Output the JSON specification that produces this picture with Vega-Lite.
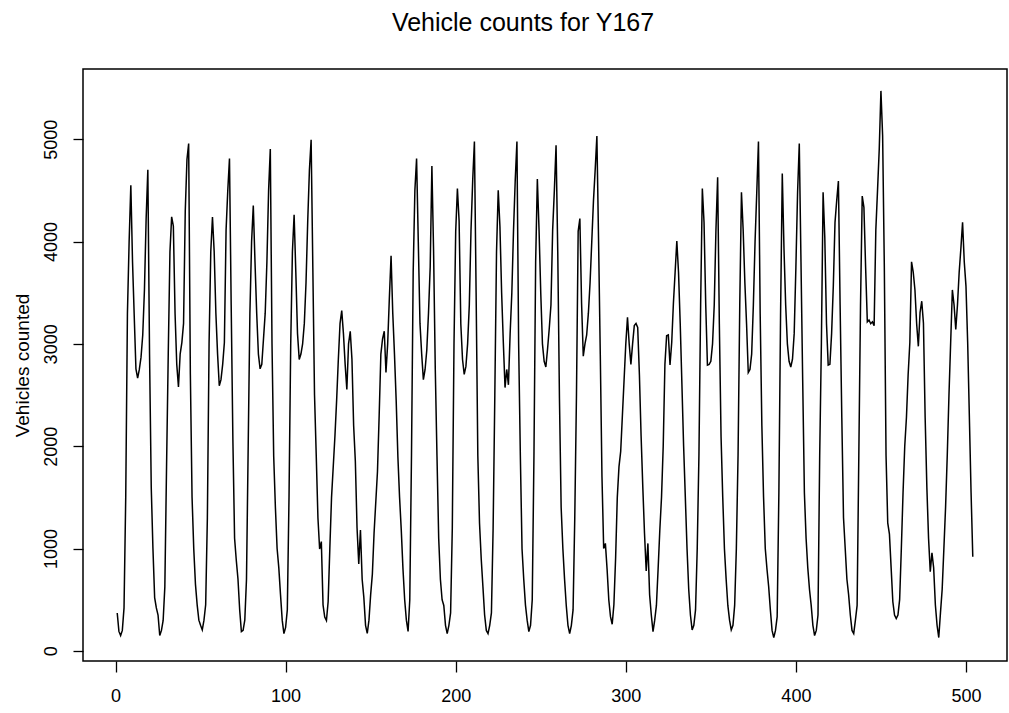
{
  "$schema": "https://vega.github.io/schema/vega-lite/v6.json",
  "width": 924,
  "height": 592,
  "autosize": {"type": "none"},
  "padding": {"left": 83, "top": 69, "right": 2, "bottom": 52},
  "background": "white",
  "title": {
    "text": "Vehicle counts for Y167",
    "fontSize": 25,
    "font": "Liberation Sans Narrow, Arial Narrow, Liberation Sans, Arial",
    "fontWeight": "normal",
    "color": "black",
    "anchor": "middle",
    "dx": -22,
    "offset": 33
  },
  "data": {"values": [
{"t":1,"v":370},{"t":2,"v":190},{"t":3,"v":150},{"t":4,"v":200},{"t":5,"v":420},{"t":6,"v":1500},{"t":7,"v":3300},{"t":8,"v":4000},{"t":9,"v":4550},{"t":10,"v":3800},{"t":11,"v":3270},{"t":12,"v":2756},{"t":13,"v":2665},{"t":14,"v":2750},{"t":15,"v":2870},{"t":16,"v":3087},{"t":17,"v":3527},{"t":18,"v":4224},{"t":19,"v":4701},{"t":20,"v":2903},{"t":21,"v":1600},{"t":22,"v":1000},{"t":23,"v":520},{"t":24,"v":420},
{"t":25,"v":350},{"t":26,"v":150},{"t":27,"v":200},{"t":28,"v":297},{"t":29,"v":628},{"t":30,"v":1800},{"t":31,"v":2900},{"t":32,"v":3900},{"t":33,"v":4242},{"t":34,"v":4150},{"t":35,"v":3300},{"t":36,"v":2800},{"t":37,"v":2580},{"t":38,"v":2900},{"t":39,"v":3013},{"t":40,"v":3200},{"t":41,"v":4298},{"t":42,"v":4800},{"t":43,"v":4958},{"t":44,"v":2700},{"t":45,"v":1500},{"t":46,"v":995},{"t":47,"v":650},{"t":48,"v":450},
{"t":49,"v":300},{"t":50,"v":250},{"t":51,"v":205},{"t":52,"v":300},{"t":53,"v":450},{"t":54,"v":1300},{"t":55,"v":3000},{"t":56,"v":3900},{"t":57,"v":4240},{"t":58,"v":3900},{"t":59,"v":3300},{"t":60,"v":2900},{"t":61,"v":2591},{"t":62,"v":2650},{"t":63,"v":2800},{"t":64,"v":3013},{"t":65,"v":4114},{"t":66,"v":4500},{"t":67,"v":4811},{"t":68,"v":3380},{"t":69,"v":2060},{"t":70,"v":1100},{"t":71,"v":885},{"t":72,"v":700},
{"t":73,"v":400},{"t":74,"v":188},{"t":75,"v":200},{"t":76,"v":300},{"t":77,"v":700},{"t":78,"v":2000},{"t":79,"v":3300},{"t":80,"v":4000},{"t":81,"v":4353},{"t":82,"v":3800},{"t":83,"v":3300},{"t":84,"v":2900},{"t":85,"v":2756},{"t":86,"v":2800},{"t":87,"v":3050},{"t":88,"v":3300},{"t":89,"v":3800},{"t":90,"v":4500},{"t":91,"v":4903},{"t":92,"v":3000},{"t":93,"v":1900},{"t":94,"v":1400},{"t":95,"v":1000},{"t":96,"v":811},
{"t":97,"v":550},{"t":98,"v":300},{"t":99,"v":169},{"t":100,"v":230},{"t":101,"v":400},{"t":102,"v":1500},{"t":103,"v":3000},{"t":104,"v":3900},{"t":105,"v":4261},{"t":106,"v":3700},{"t":107,"v":3100},{"t":108,"v":2848},{"t":109,"v":2900},{"t":110,"v":3000},{"t":111,"v":3200},{"t":112,"v":3600},{"t":113,"v":4200},{"t":114,"v":4700},{"t":115,"v":4995},{"t":116,"v":3747},{"t":117,"v":2500},{"t":118,"v":1912},{"t":119,"v":1300},{"t":120,"v":995},
{"t":121,"v":1068},{"t":122,"v":450},{"t":123,"v":330},{"t":124,"v":297},{"t":125,"v":480},{"t":126,"v":1000},{"t":127,"v":1500},{"t":128,"v":1800},{"t":129,"v":2100},{"t":130,"v":2450},{"t":131,"v":2850},{"t":132,"v":3200},{"t":133,"v":3325},{"t":134,"v":3100},{"t":135,"v":2800},{"t":136,"v":2554},{"t":137,"v":3000},{"t":138,"v":3123},{"t":139,"v":2850},{"t":140,"v":2200},{"t":141,"v":1850},{"t":142,"v":1200},{"t":143,"v":850},{"t":144,"v":1180},
{"t":145,"v":700},{"t":146,"v":520},{"t":147,"v":250},{"t":148,"v":170},{"t":149,"v":300},{"t":150,"v":550},{"t":151,"v":750},{"t":152,"v":1150},{"t":153,"v":1450},{"t":154,"v":1750},{"t":155,"v":2300},{"t":156,"v":2900},{"t":157,"v":3050},{"t":158,"v":3123},{"t":159,"v":2720},{"t":160,"v":3000},{"t":161,"v":3450},{"t":162,"v":3860},{"t":163,"v":3300},{"t":164,"v":2900},{"t":165,"v":2450},{"t":166,"v":1900},{"t":167,"v":1500},{"t":168,"v":1180},
{"t":169,"v":800},{"t":170,"v":500},{"t":171,"v":300},{"t":172,"v":190},{"t":173,"v":500},{"t":174,"v":1900},{"t":175,"v":3700},{"t":176,"v":4500},{"t":177,"v":4811},{"t":178,"v":4000},{"t":179,"v":3200},{"t":180,"v":2900},{"t":181,"v":2650},{"t":182,"v":2750},{"t":183,"v":2940},{"t":184,"v":3300},{"t":185,"v":3750},{"t":186,"v":4738},{"t":187,"v":3900},{"t":188,"v":2750},{"t":189,"v":1900},{"t":190,"v":1100},{"t":191,"v":700},{"t":192,"v":500},
{"t":193,"v":444},{"t":194,"v":250},{"t":195,"v":169},{"t":196,"v":250},{"t":197,"v":371},{"t":198,"v":1200},{"t":199,"v":3000},{"t":200,"v":4100},{"t":201,"v":4518},{"t":202,"v":4200},{"t":203,"v":3197},{"t":204,"v":2850},{"t":205,"v":2701},{"t":206,"v":2780},{"t":207,"v":3000},{"t":208,"v":3380},{"t":209,"v":4114},{"t":210,"v":4600},{"t":211,"v":4977},{"t":212,"v":3500},{"t":213,"v":1912},{"t":214,"v":1250},{"t":215,"v":900},{"t":216,"v":628},
{"t":217,"v":350},{"t":218,"v":200},{"t":219,"v":169},{"t":220,"v":250},{"t":221,"v":371},{"t":222,"v":1200},{"t":223,"v":2500},{"t":224,"v":3900},{"t":225,"v":4500},{"t":226,"v":4150},{"t":227,"v":3500},{"t":228,"v":3013},{"t":229,"v":2573},{"t":230,"v":2750},{"t":231,"v":2600},{"t":232,"v":3100},{"t":233,"v":3500},{"t":234,"v":4114},{"t":235,"v":4600},{"t":236,"v":4977},{"t":237,"v":3000},{"t":238,"v":1912},{"t":239,"v":995},{"t":240,"v":700},
{"t":241,"v":450},{"t":242,"v":300},{"t":243,"v":188},{"t":244,"v":250},{"t":245,"v":500},{"t":246,"v":1900},{"t":247,"v":3800},{"t":248,"v":4610},{"t":249,"v":4114},{"t":250,"v":3500},{"t":251,"v":3000},{"t":252,"v":2830},{"t":253,"v":2774},{"t":254,"v":2950},{"t":255,"v":3150},{"t":256,"v":3380},{"t":257,"v":4114},{"t":258,"v":4500},{"t":259,"v":4940},{"t":260,"v":3900},{"t":261,"v":2463},{"t":262,"v":1400},{"t":263,"v":1000},{"t":264,"v":700},
{"t":265,"v":444},{"t":266,"v":250},{"t":267,"v":169},{"t":268,"v":250},{"t":269,"v":400},{"t":270,"v":1300},{"t":271,"v":2500},{"t":272,"v":4100},{"t":273,"v":4224},{"t":274,"v":3400},{"t":275,"v":2880},{"t":276,"v":3000},{"t":277,"v":3087},{"t":278,"v":3300},{"t":279,"v":3600},{"t":280,"v":4000},{"t":281,"v":4400},{"t":282,"v":4700},{"t":283,"v":5032},{"t":284,"v":4000},{"t":285,"v":2900},{"t":286,"v":1700},{"t":287,"v":1000},{"t":288,"v":1050},
{"t":289,"v":800},{"t":290,"v":500},{"t":291,"v":334},{"t":292,"v":260},{"t":293,"v":450},{"t":294,"v":900},{"t":295,"v":1500},{"t":296,"v":1800},{"t":297,"v":1950},{"t":298,"v":2300},{"t":299,"v":2650},{"t":300,"v":3000},{"t":301,"v":3260},{"t":302,"v":3000},{"t":303,"v":2800},{"t":304,"v":3000},{"t":305,"v":3180},{"t":306,"v":3200},{"t":307,"v":3160},{"t":308,"v":2700},{"t":309,"v":2100},{"t":310,"v":1600},{"t":311,"v":1150},{"t":312,"v":780},
{"t":313,"v":1050},{"t":314,"v":550},{"t":315,"v":350},{"t":316,"v":188},{"t":317,"v":300},{"t":318,"v":444},{"t":319,"v":800},{"t":320,"v":1178},{"t":321,"v":1500},{"t":322,"v":2000},{"t":323,"v":2800},{"t":324,"v":3080},{"t":325,"v":3087},{"t":326,"v":2793},{"t":327,"v":3013},{"t":328,"v":3400},{"t":329,"v":3700},{"t":330,"v":4004},{"t":331,"v":3700},{"t":332,"v":3200},{"t":333,"v":2600},{"t":334,"v":2000},{"t":335,"v":1500},{"t":336,"v":1000},
{"t":337,"v":600},{"t":338,"v":350},{"t":339,"v":205},{"t":340,"v":250},{"t":341,"v":400},{"t":342,"v":1000},{"t":343,"v":1912},{"t":344,"v":3380},{"t":345,"v":4518},{"t":346,"v":4187},{"t":347,"v":3380},{"t":348,"v":2793},{"t":349,"v":2800},{"t":350,"v":2830},{"t":351,"v":3000},{"t":352,"v":3380},{"t":353,"v":4114},{"t":354,"v":4628},{"t":355,"v":3197},{"t":356,"v":2096},{"t":357,"v":1500},{"t":358,"v":995},{"t":359,"v":700},{"t":360,"v":444},
{"t":361,"v":300},{"t":362,"v":205},{"t":363,"v":250},{"t":364,"v":444},{"t":365,"v":1000},{"t":366,"v":1912},{"t":367,"v":3380},{"t":368,"v":4481},{"t":369,"v":4114},{"t":370,"v":3600},{"t":371,"v":3197},{"t":372,"v":2720},{"t":373,"v":2750},{"t":374,"v":2900},{"t":375,"v":3380},{"t":376,"v":4000},{"t":377,"v":4481},{"t":378,"v":4977},{"t":379,"v":3300},{"t":380,"v":2200},{"t":381,"v":1500},{"t":382,"v":1000},{"t":383,"v":800},{"t":384,"v":628},
{"t":385,"v":400},{"t":386,"v":200},{"t":387,"v":130},{"t":388,"v":200},{"t":389,"v":334},{"t":390,"v":1545},{"t":391,"v":3300},{"t":392,"v":4664},{"t":393,"v":3931},{"t":394,"v":3380},{"t":395,"v":3000},{"t":396,"v":2830},{"t":397,"v":2774},{"t":398,"v":2850},{"t":399,"v":3100},{"t":400,"v":3747},{"t":401,"v":4481},{"t":402,"v":4958},{"t":403,"v":3800},{"t":404,"v":2646},{"t":405,"v":1545},{"t":406,"v":1100},{"t":407,"v":811},{"t":408,"v":600},
{"t":409,"v":444},{"t":410,"v":250},{"t":411,"v":150},{"t":412,"v":200},{"t":413,"v":350},{"t":414,"v":1912},{"t":415,"v":3013},{"t":416,"v":4481},{"t":417,"v":4040},{"t":418,"v":3197},{"t":419,"v":2793},{"t":420,"v":2800},{"t":421,"v":3100},{"t":422,"v":3564},{"t":423,"v":4187},{"t":424,"v":4400},{"t":425,"v":4591},{"t":426,"v":3380},{"t":427,"v":2280},{"t":428,"v":1300},{"t":429,"v":1000},{"t":430,"v":700},{"t":431,"v":550},{"t":432,"v":350},
{"t":433,"v":200},{"t":434,"v":169},{"t":435,"v":300},{"t":436,"v":444},{"t":437,"v":1912},{"t":438,"v":3380},{"t":439,"v":4444},{"t":440,"v":4334},{"t":441,"v":3747},{"t":442,"v":3215},{"t":443,"v":3233},{"t":444,"v":3197},{"t":445,"v":3215},{"t":446,"v":3178},{"t":447,"v":4114},{"t":448,"v":4500},{"t":449,"v":4900},{"t":450,"v":5472},{"t":451,"v":5032},{"t":452,"v":3747},{"t":453,"v":1912},{"t":454,"v":1250},{"t":455,"v":1141},{"t":456,"v":811},
{"t":457,"v":480},{"t":458,"v":350},{"t":459,"v":316},{"t":460,"v":350},{"t":461,"v":500},{"t":462,"v":1000},{"t":463,"v":1545},{"t":464,"v":2000},{"t":465,"v":2280},{"t":466,"v":2700},{"t":467,"v":3013},{"t":468,"v":3802},{"t":469,"v":3700},{"t":470,"v":3527},{"t":471,"v":3197},{"t":472,"v":2976},{"t":473,"v":3307},{"t":474,"v":3417},{"t":475,"v":3200},{"t":476,"v":2280},{"t":477,"v":1600},{"t":478,"v":1100},{"t":479,"v":774},{"t":480,"v":958},
{"t":481,"v":811},{"t":482,"v":450},{"t":483,"v":250},{"t":484,"v":130},{"t":485,"v":371},{"t":486,"v":600},{"t":487,"v":995},{"t":488,"v":1400},{"t":489,"v":1912},{"t":490,"v":2500},{"t":491,"v":3013},{"t":492,"v":3527},{"t":493,"v":3380},{"t":494,"v":3142},{"t":495,"v":3380},{"t":496,"v":3700},{"t":497,"v":3931},{"t":498,"v":4187},{"t":499,"v":3800},{"t":500,"v":3564},{"t":501,"v":3013},{"t":502,"v":2280},{"t":503,"v":1545},{"t":504,"v":920}
  ]},
  "mark": {"type": "line", "color": "black", "strokeWidth": 1.5, "clip": true},
  "encoding": {
    "x": {
      "field": "t",
      "type": "quantitative",
      "scale": {"domain": [-19.12, 524.12], "nice": false, "zero": false},
      "axis": {"values": [0, 100, 200, 300, 400, 500], "title": null, "format": "d", "labelPadding": 15, "tickSize": 11}
    },
    "y": {
      "field": "v",
      "type": "quantitative",
      "scale": {"domain": [-99, 5686], "nice": false, "zero": false},
      "axis": {
        "values": [0, 1000, 2000, 3000, 4000, 5000],
        "format": "d",
        "title": "Vehicles counted",
        "labelAngle": -90,
        "labelAlign": "center",
        "labelBaseline": "bottom",
        "labelPadding": 13,
        "tickSize": 10,
        "titlePadding": 10
      }
    }
  },
  "config": {
    "view": {"stroke": "black", "strokeWidth": 1.5, "fill": "white"},
    "axis": {
      "domain": false,
      "grid": false,
      "ticks": true,
      "tickColor": "black",
      "tickWidth": 1.3,
      "labelColor": "black",
      "labelFont": "Liberation Sans Narrow, Arial Narrow, Liberation Sans, Arial",
      "labelFontSize": 18,
      "titleFont": "Liberation Sans Narrow, Arial Narrow, Liberation Sans, Arial",
      "titleFontSize": 19,
      "titleFontWeight": "normal",
      "titleColor": "black"
    }
  }
}
